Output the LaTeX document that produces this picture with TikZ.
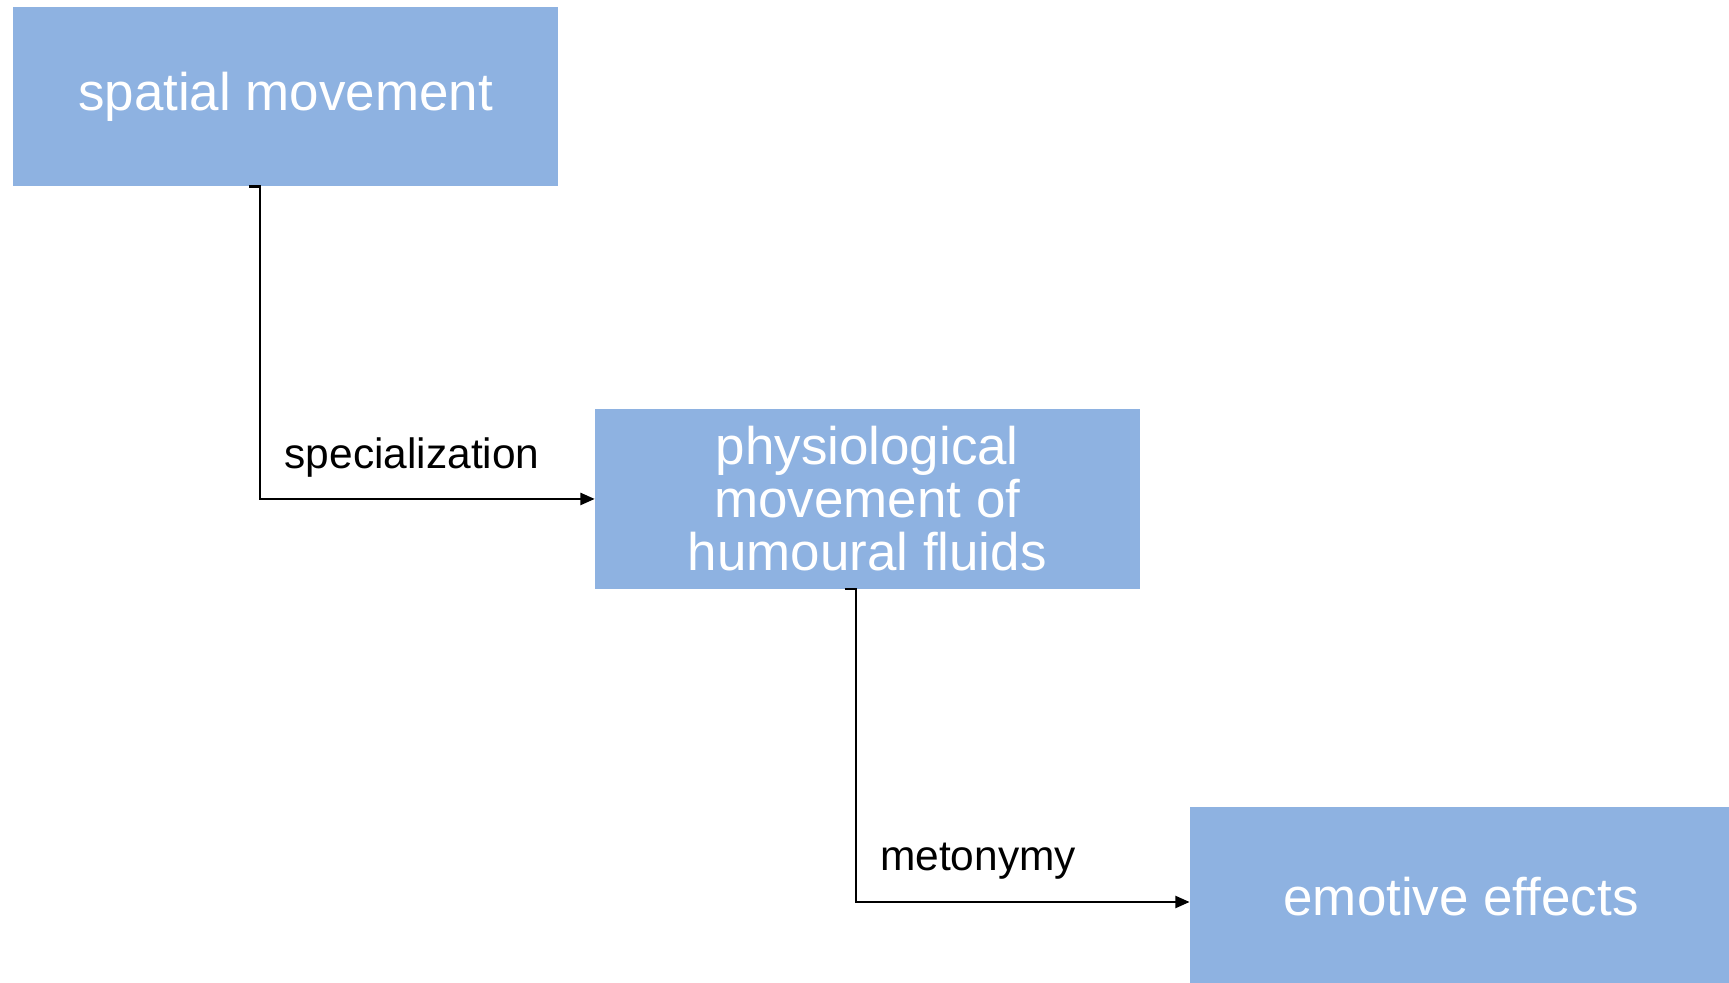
\documentclass[tikz,border=0pt]{standalone}
\usepackage{fontspec}
\setmainfont{Liberation Sans}
\usetikzlibrary{arrows.meta,calc}
\definecolor{boxblue}{RGB}{142,178,225}
\tikzset{
  box/.style={rectangle, fill=boxblue, draw=none, text=white, align=center,
    minimum width=494pt, minimum height=163pt, inner sep=0pt,
    font=\fontsize{48}{48}\selectfont},
  conn/.style={draw=black, line width=2pt, -{Triangle[length=13pt,width=11pt]}},
  lbl/.style={anchor=base west, inner sep=0pt, font=\fontsize{38.5}{40}\selectfont}
}
\begin{document}
\begin{tikzpicture}[x=1pt,y=-1pt]
\useasboundingbox (0,0) rectangle (1568,891);
\clip (0,0) rectangle (1568,891);
\node[box] (b1) at (259,87.5) {\raisebox{-2pt}{spatial movement}};
\node[box] (b2) at (786.5,452.5) {physiological\\movement of\\humoural fluids};
\node[box, minimum width=492pt] (b3) at (1325,813.5) {emotive effects};
\coordinate (s1) at ($(b1.south)+(-33,0)$);
\coordinate (c1) at ($(b1.south)+(-23,0)$);
\coordinate (s2) at ($(b2.south)+(-20.5,0)$);
\coordinate (c2) at ($(b2.south)+(-10.5,0)$);
\draw[conn] (s1) -- (c1) |- (b2.west);
\draw[conn] (s2) -- (c2) |- ([yshift=-4.5pt]b3.west);
\node[lbl] (l1) at (258,425) {specialization};
\node[lbl] (l2) at (798,789) {metonymy};
\end{tikzpicture}
\end{document}
